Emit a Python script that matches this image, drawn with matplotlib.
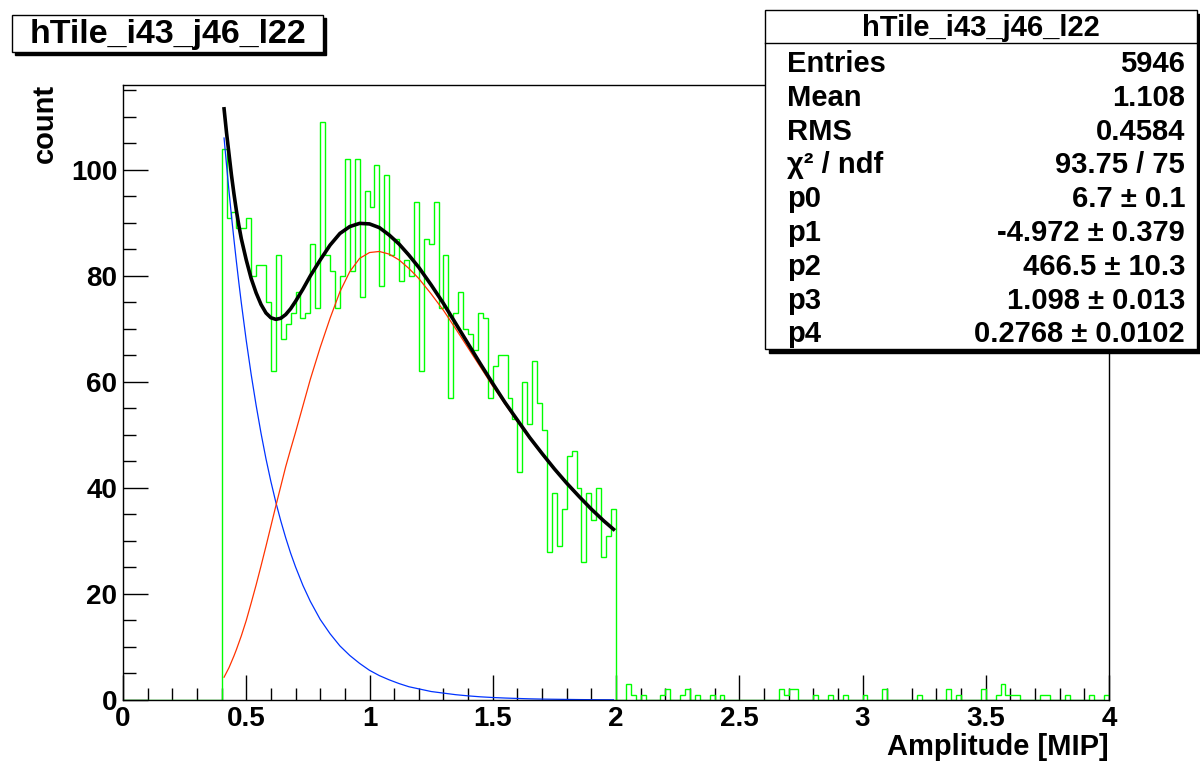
import numpy as np
import matplotlib
matplotlib.use("Agg")
import matplotlib.pyplot as plt
from matplotlib.patches import Rectangle

plt.rcParams['font.family'] = ['Liberation Sans', 'DejaVu Sans']
plt.rcParams['font.weight'] = 'bold'

# histogram: 200 bins of 0.02 from 0 to 4, counts
bin_edges = np.linspace(0.0, 4.0, 201)

counts_main = [  # bins 0.40 ... 1.98
    104, 91, 92, 89, 89, 91, 80, 82, 82, 75,
    62, 84, 68, 71, 73, 77, 72, 73, 86, 74,
    109, 84, 81, 74, 80, 102, 81, 102, 76, 96,
    93, 101, 78, 99, 84, 87, 79, 83, 80, 94,
    62, 87, 86, 94, 74, 84, 57, 73, 77, 70,
    69, 66, 73, 72, 57, 63, 65, 65, 57, 53,
    43, 60, 52, 64, 56, 51, 28, 39, 29, 36,
    46, 47, 40, 26, 39, 34, 40, 27, 31, 36,
]
# sparse entries above 2.0 : (bin index from 2.00, count)
tail_bins = [(2, 3), (3, 1), (5, 1), (9, 1), (10, 2), (13, 1), (14, 2), (16, 1),
             (19, 1), (21, 1), (33, 2), (34, 1), (35, 2), (36, 2), (40, 1),
             (43, 1), (46, 1), (50, 1), (54, 2), (61, 1), (67, 2), (69, 1),
             (74, 2), (77, 1), (78, 3), (79, 1), (80, 1), (81, 1), (86, 1),
             (87, 1), (91, 1), (96, 1), (99, 1)]

counts = np.zeros(200)
counts[20:100] = counts_main
for k, c in tail_bins:
    counts[100 + k] = c

# fit curves, points
fit_x = [0.41, 0.42, 0.43, 0.44, 0.45, 0.46, 0.47, 0.48, 0.50, 0.52,
         0.54, 0.56, 0.58, 0.60, 0.62, 0.64, 0.66, 0.68, 0.70, 0.73,
         0.76, 0.80, 0.84, 0.88, 0.92, 0.96, 1.00, 1.04, 1.08, 1.12,
         1.16, 1.20, 1.25, 1.30, 1.35, 1.40, 1.45, 1.50, 1.55, 1.60,
         1.65, 1.70, 1.75, 1.80, 1.85, 1.90, 1.95, 1.99]
fit_total = [111.5, 107, 103, 99, 95.5, 92.3, 89.5, 87, 83, 79.5,
             76.8, 74.6, 73, 72.1, 71.8, 72, 72.7, 73.8, 75.2, 77.5,
             80, 83, 85.8, 88, 89.3, 89.9, 89.8, 89.1, 87.7, 86,
             83.9, 81.6, 78.3, 74.8, 71, 67.2, 63.4, 59.7, 56.1, 52.8,
             49.5, 46.5, 43.6, 40.9, 38.4, 36, 33.8, 32.2]
fit_expo = [106, 100.9, 96, 91.3, 86.9, 82.7, 78.7, 74.9, 67.8, 61.4,
            55.6, 50.3, 45.5, 41.2, 37.3, 33.8, 30.6, 27.7, 25.1, 21.6,
            18.6, 15.2, 12.5, 10.2, 8.4, 6.9, 5.6, 4.6, 3.8, 3.1,
            2.5, 2.1, 1.6, 1.3, 1.0, 0.78, 0.6, 0.47, 0.37, 0.29,
            0.22, 0.17, 0.14, 0.11, 0.08, 0.06, 0.05, 0.04]
fit_landau = [4.3, 5.2, 6.1, 7.2, 8.3, 9.5, 10.8, 12.1, 15, 18.3,
              21.7, 25.3, 29, 32.8, 36.6, 40.3, 44, 47.3, 50.5, 55.5,
              60.5, 66.5, 72, 77, 80.8, 83.3, 84.4, 84.6, 84.1, 83,
              81.4, 79.5, 76.6, 73.5, 70, 66.4, 62.8, 59.2, 55.8, 52.5,
              49.3, 46.3, 43.5, 40.8, 38.3, 35.9, 33.7, 32.1]

hist_name = "hTile_i43_j46_l22"
stats_labels = ["Entries", "Mean", "RMS", "χ² / ndf", "p0", "p1", "p2", "p3", "p4"]
stats_values = ["5946", "1.108", "0.4584", "93.75 / 75", "6.7 ± 0.1",
                "-4.972 ± 0.379", "466.5 ± 10.3", "1.098 ± 0.013", "0.2768 ± 0.0102"]

W, H = 1200, 763
fig = plt.figure(figsize=(W / 100, H / 100), dpi=100)
fig.patch.set_facecolor("white")

def fx(px):
    return px / W

def fy(py):
    return 1 - py / H

ax = fig.add_axes([fx(123), fy(700), fx(1109) - fx(123), fy(85) - fy(700)])
ax.stairs(counts, bin_edges, color="#00ff00", linewidth=1.0, baseline=0, zorder=2)
ax.plot(fit_x, fit_expo, color="#0033ff", linewidth=0.9, zorder=3)
ax.plot(fit_x, fit_landau, color="#ff3300", linewidth=0.9, zorder=3)
ax.plot(fit_x, fit_total, color="black", linewidth=2.6, zorder=4,
        solid_joinstyle="round")

ax.set_xlim(0, 4)
ax.set_ylim(0, 116)
ax.set_xticks(np.arange(0, 4.01, 0.5))
ax.set_xticklabels(["0", "0.5", "1", "1.5", "2", "2.5", "3", "3.5", "4"])
ax.set_xticks(np.arange(0, 4.01, 0.1), minor=True)
ax.set_yticks(np.arange(0, 101, 20))
ax.set_yticks(np.arange(0, 116, 5), minor=True)
ax.tick_params(which="both", direction="in", top=False, right=False,
               labelsize=20, width=1)
ax.tick_params(which="major", length=18, pad=4)
ax.tick_params(which="minor", length=9)
for lab in ax.get_xticklabels() + ax.get_yticklabels():
    lab.set_fontweight("bold")
for sp in ax.spines.values():
    sp.set_linewidth(1)
    sp.set_zorder(5)

fig.text(fx(1109), fy(747), "Amplitude [MIP]", ha="right", va="center",
         fontsize=21, fontweight="bold")
fig.text(fx(45), fy(84), "count", ha="center", va="top", rotation=90,
         fontsize=21, fontweight="bold")

# title box with shadow
fig.patches.append(Rectangle((fx(15), fy(55)), fx(326) - fx(15), fy(18) - fy(55),
                             transform=fig.transFigure, facecolor="black",
                             edgecolor="black", zorder=9))
fig.patches.append(Rectangle((fx(12), fy(52)), fx(323) - fx(12), fy(15) - fy(52),
                             transform=fig.transFigure, facecolor="white",
                             edgecolor="black", linewidth=1, zorder=10))
fig.text(fx(168), fy(34), hist_name, ha="center", va="center",
         fontsize=24.5, fontweight="bold", zorder=11)

# stats box with shadow
fig.patches.append(Rectangle((fx(769), fy(353)), fx(1200) - fx(769), fy(14) - fy(353),
                             transform=fig.transFigure, facecolor="black",
                             edgecolor="black", zorder=9))
fig.patches.append(Rectangle((fx(765), fy(349)), fx(1197) - fx(765), fy(10) - fy(349),
                             transform=fig.transFigure, facecolor="white",
                             edgecolor="black", linewidth=1, zorder=10))
fig.lines.append(plt.Line2D([fx(765), fx(1197)], [fy(43), fy(43)],
                            transform=fig.transFigure, color="black",
                            linewidth=1, zorder=11))
fig.text(fx(981), fy(28), hist_name, ha="center", va="center",
         fontsize=21, fontweight="bold", zorder=11)
for i, (lab, val) in enumerate(zip(stats_labels, stats_values)):
    y = 64 + i * 33.8
    fig.text(fx(787), fy(y), lab, ha="left", va="center",
             fontsize=21, fontweight="bold", zorder=11)
    fig.text(fx(1185), fy(y), val, ha="right", va="center",
             fontsize=21, fontweight="bold", zorder=11)

fig.savefig("out.png", dpi=100)
